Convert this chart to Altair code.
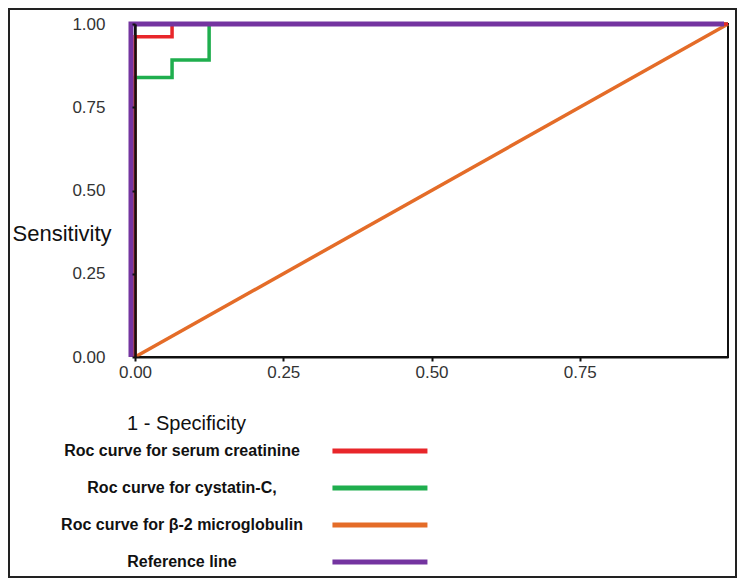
import altair as alt
import pandas as pd

# ---- data ----
series_names = [
    "Roc curve for serum creatinine",
    "Roc curve for cystatin-C,",
    "Roc curve for β-2 microglobulin",
    "Reference line",
]
series_colors = ["#e8262a", "#1fae4e", "#e46c28", "#7434a0"]

creatinine_x = [0, 0, 0.0625, 0.0625, 1]
creatinine_y = [0, 0.962, 0.962, 1, 1]

cystatin_x = [0, 0, 0.0625, 0.0625, 0.125, 0.125, 1]
cystatin_y = [0, 0.839, 0.839, 0.892, 0.892, 1, 1]

b2m_x = [0, 1]
b2m_y = [0, 1]

reference_x = [0, 0, 1]
reference_y = [0, 1, 1]

x_ticks = [0, 0.25, 0.5, 0.75]
y_ticks = [0, 0.25, 0.5, 0.75, 1]


def frame(name, xs, ys):
    return pd.DataFrame({"series": name, "fpr": xs, "tpr": ys, "idx": range(len(xs))})


curves = pd.concat([
    frame(series_names[2], b2m_x, b2m_y),
    frame(series_names[1], cystatin_x, cystatin_y),
    frame(series_names[0], creatinine_x, creatinine_y),
], ignore_index=True)
ref = frame(series_names[3], reference_x, reference_y)

FONT = "Liberation Sans"

color = alt.Color(
    "series:N",
    scale=alt.Scale(domain=series_names, range=series_colors),
    legend=alt.Legend(
        orient="none", legendX=23, legendY=415, title=None,
        # stroke symbol drawn to the right of its (centred) label
        symbolType="M17.1,0H27.1", symbolSize=361, symbolStrokeWidth=5,
        labelAlign="center", labelOffset=0, labelFont=FONT,
        labelFontWeight="bold", labelFontSize=16, labelColor="#111",
        labelLimit=400, rowPadding=15, padding=0,
    ),
)

xenc = alt.X(
    "fpr:Q", scale=alt.Scale(domain=[0, 1], nice=False),
    axis=alt.Axis(
        values=x_ticks, format=".2f", title="1 - Specificity",
        titleFont=FONT, titleFontSize=20, titleFontWeight="normal", titleColor="#111",
        titleX=51, titleY=66, titleAlign="center", titleBaseline="middle",
        labelFont=FONT, labelFontSize=17, labelColor="#333", labelPadding=3,
        labelFlush=False,
        tickSize=4, tickWidth=2, tickColor="#111",
        domain=True, domainColor="#111", domainWidth=2, grid=False, zindex=1,
    ),
)
yenc = alt.Y(
    "tpr:Q", scale=alt.Scale(domain=[0, 1], nice=False),
    axis=alt.Axis(
        values=y_ticks, format=".2f", title="Sensitivity", titleAngle=0,
        titleFont=FONT, titleFontSize=22, titleFontWeight="normal", titleColor="#111",
        titleX=-123, titleY=209, titleAlign="left", titleBaseline="middle",
        labelFont=FONT, labelFontSize=17, labelColor="#333", labelPadding=27,
        labelFlush=False,
        tickSize=3, tickWidth=2, tickColor="#111",
        domain=True, domainColor="#111", domainWidth=2.5, grid=False, zindex=1,
    ),
)

curve_layer = alt.Chart(curves).mark_line(strokeWidth=3.5, interpolate="linear").encode(
    x=xenc, y=yenc, color=color, order="idx:Q", detail="series:N"
)
ref_layer = alt.Chart(ref).mark_line(strokeWidth=5, xOffset=-4).encode(
    x="fpr:Q", y="tpr:Q", color=color, order="idx:Q"
)
border = alt.Chart(pd.DataFrame({"a": [0]})).mark_rect(
    fill=None, stroke="#222", strokeWidth=2, clip=False
).encode(
    x=alt.value(-126), x2=alt.value(601), y=alt.value(-15), y2=alt.value(553)
)

chart = alt.layer(curve_layer, ref_layer, border).properties(
    width=593, height=333,
    padding={"left": 127, "top": 16, "right": 9, "bottom": 221},
    autosize=alt.AutoSizeParams(type="none"),
).configure_view(stroke="#111", strokeWidth=2)

chart.save("out.html", embed_options={"renderer": "svg", "actions": False})
